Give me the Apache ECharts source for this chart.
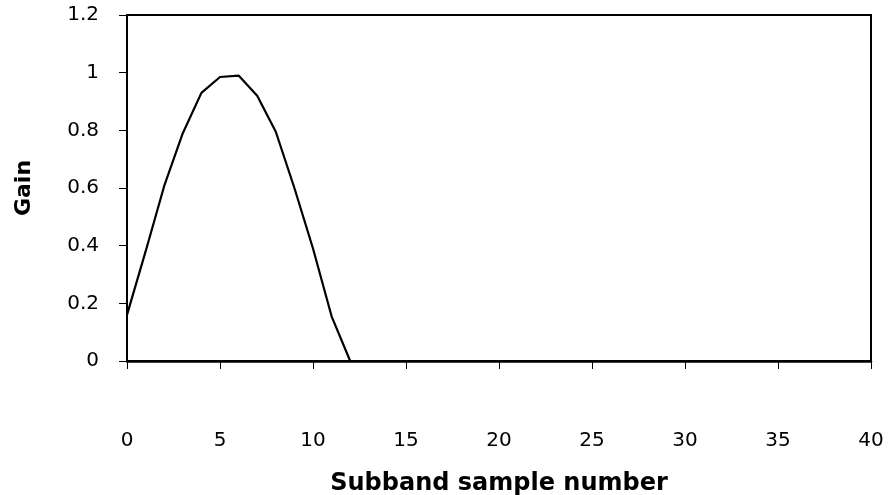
<!DOCTYPE html>
<html>
<head>
<meta charset="utf-8">
<script src="https://cdn.jsdelivr.net/npm/echarts@6/dist/echarts.min.js"></script>
<style>
  html, body { margin: 0; padding: 0; background: #fff; }
  #chart { width: 893px; height: 495px; }
</style>
</head>
<body>
<div id="chart"></div>
<script>
// values
var sampleNumbers = [0, 1, 2, 3, 4, 5, 6, 7, 8, 9, 10, 11, 12, 13, 14, 15, 16, 17, 18, 19, 20,
  21, 22, 23, 24, 25, 26, 27, 28, 29, 30, 31, 32, 33, 34, 35, 36, 37, 38, 39, 40];
var gains = [0.16, 0.38, 0.607, 0.79, 0.93, 0.985, 0.99, 0.92, 0.795, 0.6, 0.39, 0.155, 0,
  0, 0, 0, 0, 0, 0, 0, 0, 0, 0, 0, 0, 0, 0, 0, 0, 0, 0, 0, 0, 0, 0, 0, 0, 0, 0, 0, 0];
var xTicks = [0, 40, 5];      // min, max, step
var yTicks = [0, 1.2, 0.2];

var points = sampleNumbers.map(function (x, i) { return [x, gains[i]]; });
var font = 'DejaVu Sans';

var myChart = echarts.init(document.getElementById('chart'));
var option = {
  animation: false,
  backgroundColor: '#fff',
  grid: {
    left: 127,
    right: 22,
    top: 15,
    bottom: 134,
    outerBoundsMode: 'none',
    containLabel: false,
    show: true,
    borderColor: '#000',
    borderWidth: 2
  },
  xAxis: {
    type: 'value',
    min: xTicks[0],
    max: xTicks[1],
    interval: xTicks[2],
    name: 'Subband sample number',
    nameLocation: 'middle',
    nameGap: 111,
    nameTextStyle: { color: '#000', fontFamily: font, fontSize: 24, fontWeight: 'bold' },
    axisLine: { lineStyle: { color: '#000', width: 2.5 } },
    axisTick: { show: true, length: 8, lineStyle: { color: '#000', width: 1 } },
    axisLabel: { color: '#000', fontFamily: font, fontSize: 20, margin: 70 },
    splitLine: { show: false }
  },
  yAxis: {
    type: 'value',
    min: yTicks[0],
    max: yTicks[1],
    interval: yTicks[2],
    name: 'Gain',
    nameLocation: 'middle',
    nameGap: 92,
    nameTextStyle: { color: '#000', fontFamily: font, fontSize: 22, fontWeight: 'bold' },
    axisLine: { lineStyle: { color: '#000', width: 2 } },
    axisTick: { show: true, length: 8, lineStyle: { color: '#000', width: 1 } },
    axisLabel: {
      color: '#000', fontFamily: font, fontSize: 20, margin: 28,
      formatter: function (v) { return String(+v.toFixed(1)); }
    },
    splitLine: { show: false }
  },
  series: [{
    type: 'line',
    data: points,
    showSymbol: false,
    lineStyle: { color: '#000', width: 2.2 }
  }]
};
myChart.setOption(option);
</script>
</body>
</html>
